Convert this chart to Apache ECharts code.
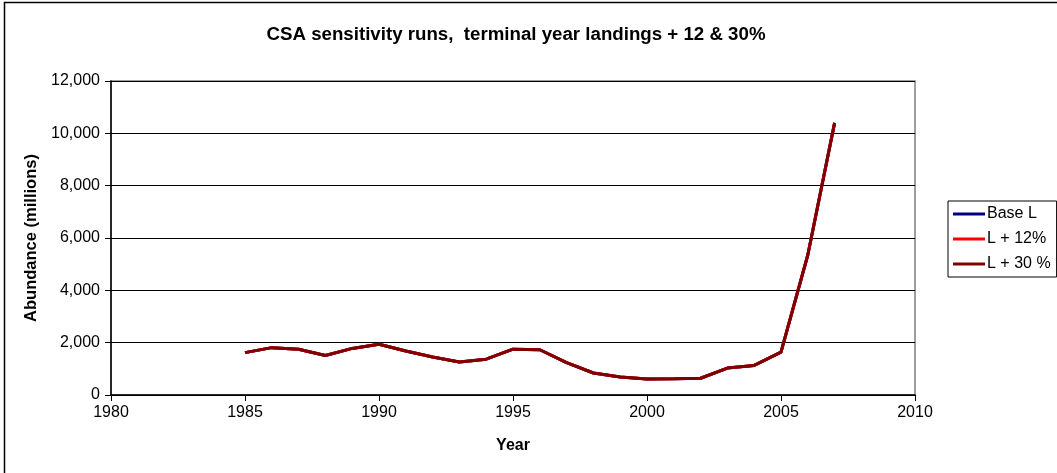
<!DOCTYPE html>
<html><head><meta charset="utf-8">
<script src="https://cdn.jsdelivr.net/npm/echarts@6/dist/echarts.min.js"></script>
<style>html,body{margin:0;padding:0;background:#fff}#c{width:1057px;height:473px}</style>
</head><body><div id="c"></div>
<script>
const years = [1985,1986,1987,1988,1989,1990,1991,1992,1993,1994,1995,1996,1997,1998,1999,2000,2001,2002,2003,2004,2005,2006,2007];
const baseL = [1620,1810,1750,1510,1780,1940,1680,1450,1260,1370,1750,1730,1240,840,690,610,620,640,1030,1130,1640,5350,10400];
const l12 = [1620,1810,1750,1510,1780,1940,1680,1450,1260,1370,1750,1730,1240,840,690,610,620,640,1030,1130,1640,5350,10400];
const l30 = [1620,1810,1750,1510,1780,1940,1680,1450,1260,1370,1750,1730,1240,840,690,610,620,640,1030,1130,1640,5350,10400];
const seriesNames = ['Base L','L + 12%','L + 30 %'];
const seriesColors = ['#000080','#FF0000','#800000'];
const seriesValues = [baseL, l12, l30];

const chart = echarts.init(document.getElementById('c'), null, {renderer:'canvas'});
const font = 'Liberation Sans, Arial, sans-serif';
chart.setOption({
  animation:false,
  textStyle:{fontFamily:font},
  graphic:[{type:'rect',shape:{x:4.5,y:2.5,width:1060,height:480},style:{fill:null,stroke:'#000',lineWidth:1.5},z:-1},
           {type:'rect',shape:{x:111,y:81,width:804,height:314},style:{fill:null,stroke:'#808080',lineWidth:1.5},z:0}],
  title:{text:'CSA sensitivity runs,  terminal year landings + 12 & 30%',left:511,textAlign:'center',top:20,
    textStyle:{fontFamily:font,fontSize:18.7,fontWeight:'bold',color:'#000'}},
  grid:{left:111,top:81,width:804,height:314,containLabel:false},
  legend:{orient:'vertical',left:948,top:201,padding:[5,6,5,5],borderColor:'#000',borderWidth:1,
    itemWidth:32,itemHeight:3,itemGap:9,icon:'rect',
    textStyle:{fontFamily:font,fontSize:16,color:'#000',padding:[0,0,0,-3]},
    data:seriesNames},
  xAxis:{type:'value',min:1980,max:2010,interval:5,name:'Year',nameLocation:'middle',nameGap:43,
    nameTextStyle:{fontFamily:font,fontSize:16,fontWeight:'bold',color:'#000'},
    axisLine:{lineStyle:{color:'#000',width:1.5}},
    axisTick:{show:true,length:6,lineStyle:{color:'#000'}},
    axisLabel:{color:'#000',fontSize:16,fontFamily:font,margin:10,formatter:v=>String(v)},
    splitLine:{show:false}},
  yAxis:{type:'value',min:0,max:12000,interval:2000,name:'Abundance (millions)',nameLocation:'middle',nameGap:68,
    nameTextStyle:{fontFamily:font,fontSize:16.5,fontWeight:'bold',color:'#000'},
    axisLine:{show:true,lineStyle:{color:'#000',width:1.5}},
    axisTick:{show:true,length:6,lineStyle:{color:'#000'}},
    axisLabel:{color:'#000',fontSize:16,fontFamily:font,margin:11,formatter:v=>v.toLocaleString('en-US')},
    splitLine:{show:true,lineStyle:{color:'#000',width:1}}},
  series:seriesNames.map((n,i)=>({name:n,type:'line',showSymbol:false,symbol:'none',
    color:seriesColors[i],lineStyle:{width:3,color:seriesColors[i]},
    data:years.map((y,j)=>[y,seriesValues[i][j]])}))
});
</script></body></html>
